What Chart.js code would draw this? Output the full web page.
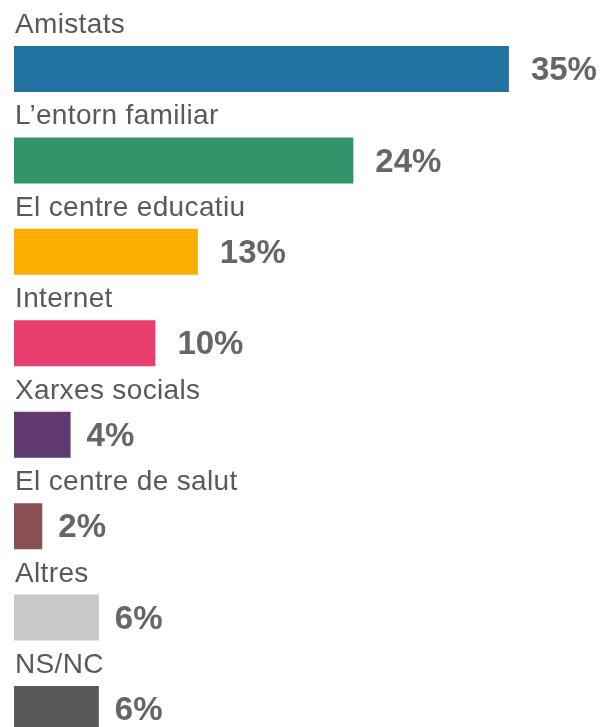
<!DOCTYPE html>
<html>
<head>
<meta charset="utf-8">
<script src="https://cdn.jsdelivr.net/npm/chart.js@4/dist/chart.umd.min.js"></script>
<style>
html,body{margin:0;padding:0;background:#fff;overflow:hidden;width:603px;height:727px;}
#c{display:block;}
</style>
</head>
<body>
<canvas id="c" width="603" height="760" style="width:603px;height:760px"></canvas>
<script>
const categories = ["Amistats","L\u2019entorn familiar","El centre educatiu","Internet","Xarxes socials","El centre de salut","Altres","NS/NC"];
const values = [35,24,13,10,4,2,6,6];
const valueLabels = ["35%","24%","13%","10%","4%","2%","6%","6%"];
const barColors = ["#2271A3","#33936A","#F9AE00","#E83E6F","#613A72","#8A4F53","#C8C8C8","#595959"];

const labelPlugin = {
  id: 'labelPlugin',
  afterDatasetsDraw(chart) {
    const ctx = chart.ctx;
    const meta = chart.getDatasetMeta(0);
    ctx.save();
    meta.data.forEach((bar, i) => {
      const top = bar.y - bar.height / 2;
      ctx.fillStyle = '#595959';
      ctx.font = '28px "Liberation Sans", Arial, sans-serif';
      ctx.letterSpacing = '0.35px';
      ctx.textAlign = 'left';
      ctx.textBaseline = 'alphabetic';
      ctx.fillText(categories[i], chart.chartArea.left + 1, top - 13);
      ctx.letterSpacing = '0px';
      ctx.fillStyle = '#666666';
      ctx.font = 'bold 33px "Liberation Sans", Arial, sans-serif';
      ctx.textBaseline = 'middle';
      const gap = valueLabels[i].length > 2 ? 22 : 16;
      ctx.fillText(valueLabels[i], bar.x + gap, bar.y + 2);
    });
    ctx.restore();
  }
};

new Chart(document.getElementById('c'), {
  type: 'bar',
  data: {
    labels: categories,
    datasets: [{
      data: values,
      backgroundColor: barColors,
      borderWidth: 0,
      categoryPercentage: 1,
      barPercentage: 0.503
    }]
  },
  options: {
    indexAxis: 'y',
    responsive: false,
    animation: false,
    layout: { padding: { left: 14, right: 23.4, top: 23.3, bottom: 5.3 } },
    plugins: { legend: { display: false }, tooltip: { enabled: false } },
    scales: {
      x: { display: false, min: 0, max: 40 },
      y: { display: false }
    }
  },
  plugins: [labelPlugin]
});
</script>
</body>
</html>
